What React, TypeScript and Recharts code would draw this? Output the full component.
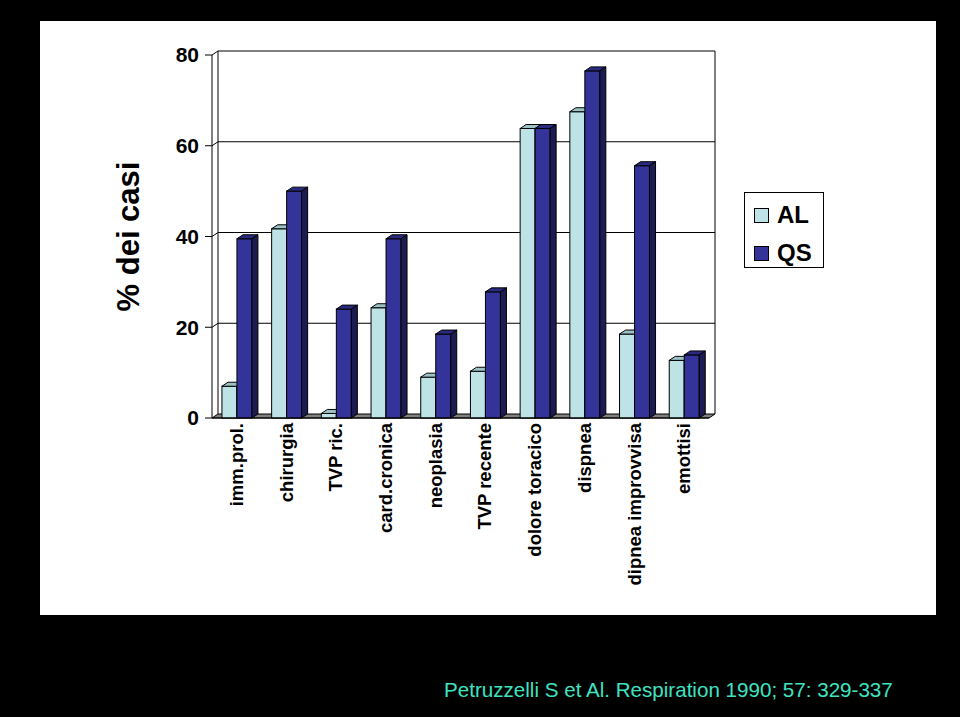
import React from 'react';
import {
  BarChart,
  Bar,
  XAxis,
  YAxis,
  CartesianGrid,
  Legend,
  Label,
} from 'recharts';

// categorie (asse X) e percentuali
const categories = [
  'imm.prol.',
  'chirurgia',
  'TVP ric.',
  'card.cronica',
  'neoplasia',
  'TVP recente',
  'dolore toracico',
  'dispnea',
  'dipnea improvvisa',
  'emottisi',
];
const alValues = [7, 41.7, 1, 24.3, 9, 10.3, 63.8, 67.5, 18.5, 12.7];
const qsValues = [39.5, 50, 24, 39.5, 18.5, 27.8, 63.8, 76.5, 55.6, 13.9];
const yTicks = [0, 20, 40, 60, 80];

const FONT = '"Liberation Sans", Arial, sans-serif';
// profondità dell'effetto 3D
const DX = 6;
const DY = 4;

const chartData = categories.map((name, i) => ({
  name,
  AL: alValues[i],
  QS: qsValues[i],
}));

// colori faccia frontale / superiore / laterale
const shades: Record<string, { front: string; top: string; side: string }> = {
  AL: { front: '#bde3e7', top: '#9dc2c6', side: '#7f9fa3' },
  QS: { front: '#333399', top: '#2a2a80', side: '#1c1c52' },
};

function Bar3D(props: any) {
  const { x, y, width, height, dataKey } = props;
  const c = shades[dataKey] ?? shades.AL;
  if (width == null || height == null) return null;
  const x2 = x + width;
  const y2 = y + height;
  return (
    <g>
      <rect x={x} y={y} width={width} height={height} fill={c.front} stroke="#000" strokeWidth={1} />
      <polygon
        points={`${x},${y} ${x + DX},${y - DY} ${x2 + DX},${y - DY} ${x2},${y}`}
        fill={c.top}
        stroke="#000"
        strokeWidth={1}
      />
      <polygon
        points={`${x2},${y} ${x2 + DX},${y - DY} ${x2 + DX},${y2 - DY} ${x2},${y2}`}
        fill={c.side}
        stroke="#000"
        strokeWidth={1}
      />
    </g>
  );
}

// linee della parete di fondo (spostate in profondità) + pavimento grigio
function WallLine(props: any) {
  const { x1, y1, x2, y, height } = props;
  const bottom = y + height;
  if (Math.abs(y1 - bottom) < 0.5) {
    return (
      <polygon
        key={`floor-${y1}`}
        points={`${x1},${y1} ${x2},${y1} ${x2 + DX},${y1 - DY} ${x1 + DX},${y1 - DY}`}
        fill="#808080"
        stroke="#000"
        strokeWidth={1}
      />
    );
  }
  return (
    <polyline
      key={`h-${y1}`}
      points={`${x1},${y1} ${x1 + DX},${y1 - DY} ${x2 + DX},${y1 - DY}`}
      fill="none"
      stroke="#000"
      strokeWidth={1}
    />
  );
}

function WallEdge(props: any) {
  const { x1, y1, y2 } = props;
  return (
    <line
      key={`v-${x1}`}
      x1={x1 + DX}
      y1={y1 - DY}
      x2={x1 + DX}
      y2={y2 - DY}
      stroke="#000"
      strokeWidth={1}
    />
  );
}

function CategoryTick(props: any) {
  const { x, y, payload } = props;
  return (
    <text
      x={x}
      y={y}
      dy="0.33em"
      transform={`rotate(-90, ${x}, ${y})`}
      textAnchor="end"
      fontFamily={FONT}
      fontWeight="bold"
      fontSize={18.5}
      fill="#000"
    >
      {payload.value}
    </text>
  );
}

function LegendBox(props: any) {
  const { payload = [] } = props;
  return (
    <div
      style={{
        width: 78,
        height: 71,
        border: '1px solid #000',
        background: '#fff',
        fontFamily: FONT,
        fontWeight: 'bold',
        fontSize: 24,
        paddingTop: 3,
      }}
    >
      {payload.map((p: any) => (
        <div
          key={p.value}
          style={{ display: 'flex', alignItems: 'center', height: 38, paddingLeft: 9 }}
        >
          <span
            style={{
              display: 'inline-block',
              width: 13,
              height: 13,
              border: '1px solid #000',
              background: shades[p.value]?.front,
              marginRight: 8,
            }}
          />
          <span>{p.value}</span>
        </div>
      ))}
    </div>
  );
}

export default function App() {
  return (
    <div
      style={{
        position: 'absolute',
        left: 0,
        top: 0,
        width: 960,
        height: 717,
        background: '#000',
        overflow: 'hidden',
      }}
    >
      {/* pannello bianco della slide */}
      <div
        style={{
          position: 'absolute',
          left: 40,
          top: 21,
          width: 896,
          height: 594,
          background: '#fff',
        }}
      />
      <div style={{ position: 'absolute', left: 0, top: 0 }}>
        <BarChart
          width={960}
          height={717}
          data={chartData}
          margin={{ top: 55, right: 251, bottom: 99, left: 0 }}
          barCategoryGap="20%"
          barGap={0}
        >
          <CartesianGrid
            vertical={WallEdge}
            horizontal={WallLine}
            verticalCoordinatesGenerator={({ offset }: any) => [
              offset.left,
              offset.left + offset.width,
            ]}
            fill="none"
          />
          <XAxis
            dataKey="name"
            height={200}
            tickLine={false}
            tickSize={0}
            tickMargin={5}
            interval={0}
            tick={<CategoryTick />}
            axisLine={{ stroke: '#000' }}
          />
          <YAxis
            width={212}
            domain={[0, 80]}
            ticks={yTicks}
            tickSize={7}
            tickMargin={6}
            tickLine={{ stroke: '#000' }}
            axisLine={{ stroke: '#000' }}
            tick={{ fill: '#000', fontFamily: FONT, fontWeight: 'bold', fontSize: 21 }}
          >
            <Label
              value="% dei casi"
              angle={-90}
              position="insideLeft"
              offset={128}
              style={{
                textAnchor: 'middle',
                fontFamily: FONT,
                fontWeight: 'bold',
                fontSize: 31,
                fill: '#000',
              }}
            />
          </YAxis>
          <Legend
            layout="vertical"
            align="center"
            verticalAlign="middle"
            content={<LegendBox />}
            wrapperStyle={{ left: 744, top: 192, width: 'auto' }}
          />
          <Bar dataKey="AL" fill={shades.AL.front} shape={<Bar3D dataKey="AL" />} isAnimationActive={false} />
          <Bar dataKey="QS" fill={shades.QS.front} shape={<Bar3D dataKey="QS" />} isAnimationActive={false} />
        </BarChart>
      </div>
      <div
        style={{
          position: 'absolute',
          left: 444,
          top: 680,
          fontFamily: FONT,
          fontSize: 20.6,
          lineHeight: '20.6px',
          color: '#3fe3c0',
          whiteSpace: 'nowrap',
        }}
      >
        Petruzzelli S et Al. Respiration 1990; 57: 329-337
      </div>
    </div>
  );
}
